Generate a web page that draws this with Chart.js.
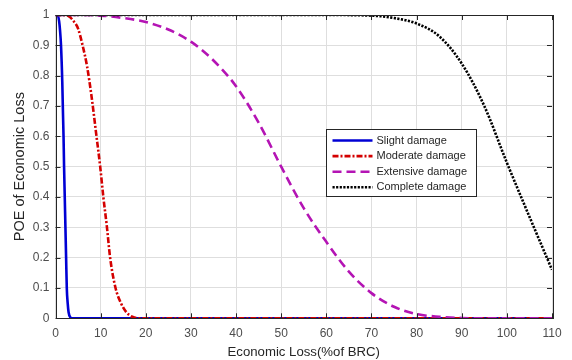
<!DOCTYPE html>
<html lang="en">
<head>
    <meta charset="UTF-8">
    <style>
        * { margin: 0; padding: 0; box-sizing: border-box; }
        body { background: #ffffff; font-family: "Liberation Sans", Arial, sans-serif; }
        .chart-box { width: 572px; height: 360px; position: relative; }
    </style>
</head>
<body>
    <div class="chart-box">
        <canvas id="lossChart"></canvas>
    </div>

    <script src="https://cdn.jsdelivr.net/npm/chart.js"></script>
    <script>
        // Probability of exceedance of economic loss, per damage state
        const slightX = [0, 0.5, 0.8, 1.0, 1.22, 1.5, 1.65, 1.78, 1.9, 2.05, 2.2, 2.35, 2.5, 2.7, 2.9, 3.3, 3.7, 110];
        const slightY = [1, 0.998, 0.98, 0.95, 0.9, 0.78, 0.68, 0.6, 0.5, 0.4, 0.3, 0.2, 0.1, 0.05, 0.02, 0.003, 0, 0];

        const moderateX = [0, 2, 3, 4, 5, 6, 7, 8, 9, 9.9, 10.6, 11.4, 12.1, 13.3, 14.5, 15.7, 17, 18.5, 110];
        const moderateY = [1, 1, 0.995, 0.98, 0.955, 0.9, 0.83, 0.73, 0.61, 0.5, 0.4, 0.3, 0.2, 0.1, 0.05, 0.02, 0.005, 0, 0];

        const extensiveX = [0, 5, 10, 15, 20, 25, 30, 35, 40, 45, 50, 55, 60, 65, 70, 75, 80, 85, 90, 95, 110];
        const extensiveY = [1, 1, 0.998, 0.99, 0.977, 0.952, 0.912, 0.85, 0.765, 0.645, 0.5, 0.363, 0.252, 0.154, 0.083, 0.038, 0.014, 0.005, 0.001, 0, 0];

        const completeX = [0, 60, 70, 75, 80, 85, 90, 95, 100, 105, 110];
        const completeY = [1, 1, 0.998, 0.99, 0.972, 0.93, 0.84, 0.70, 0.513, 0.335, 0.16];

        const seriesNames = ["Slight damage", "Moderate damage", "Extensive damage", "Complete damage"];

        const toPoints = (xs, ys) => xs.map((x, i) => ({ x: x, y: ys[i] }));

        const axisColor = "#262626";
        const tickColor = "#4d4d4d";
        const gridColor = "#dedede";
        const fontFamily = "'Liberation Sans', Arial, sans-serif";

        // box around the plot, inward tick marks and the inset legend
        const matlabFrame = {
            id: "matlabFrame",
            afterDatasetsDraw(chart) {
                const ctx = chart.ctx;
                const area = chart.chartArea;
                const xs = chart.scales.x;
                const ys = chart.scales.y;
                ctx.save();
                ctx.strokeStyle = axisColor;
                ctx.lineWidth = 1;
                ctx.setLineDash([]);
                ctx.beginPath();
                xs.ticks.forEach(t => {
                    const px = Math.round(xs.getPixelForValue(t.value)) + 0.5;
                    ctx.moveTo(px, area.bottom);
                    ctx.lineTo(px, area.bottom - 5);
                    ctx.moveTo(px, area.top);
                    ctx.lineTo(px, area.top + 5);
                });
                ys.ticks.forEach(t => {
                    const py = Math.round(ys.getPixelForValue(t.value)) + 0.5;
                    ctx.moveTo(area.left, py);
                    ctx.lineTo(area.left + 5, py);
                    ctx.moveTo(area.right, py);
                    ctx.lineTo(area.right - 5, py);
                });
                ctx.stroke();
                ctx.strokeRect(Math.round(area.left) + 0.5, Math.round(area.top) + 0.5,
                    Math.round(area.right - area.left), Math.round(area.bottom - area.top));

                // legend
                const lx = 326.5, ly = 129.5, lw = 150, lh = 67;
                ctx.fillStyle = "#ffffff";
                ctx.fillRect(lx, ly, lw, lh);
                ctx.strokeStyle = axisColor;
                ctx.strokeRect(lx, ly, lw, lh);
                ctx.font = "11px " + fontFamily;
                ctx.textBaseline = "middle";
                chart.data.datasets.forEach((ds, i) => {
                    const rowY = ly + 11 + i * 15.6;
                    ctx.strokeStyle = ds.borderColor;
                    ctx.lineWidth = ds.borderWidth;
                    ctx.setLineDash(ds.borderDash || []);
                    ctx.beginPath();
                    ctx.moveTo(lx + 6, rowY);
                    ctx.lineTo(lx + 46, rowY);
                    ctx.stroke();
                    ctx.setLineDash([]);
                    ctx.fillStyle = axisColor;
                    ctx.fillText(ds.label, lx + 50, rowY);
                });
                ctx.restore();
            }
        };

        new Chart("lossChart", {
            type: "line",
            data: {
                datasets: [
                    {
                        label: seriesNames[0],
                        data: toPoints(slightX, slightY),
                        borderColor: "#0000d4",
                        borderWidth: 2.6,
                        order: 4
                    },
                    {
                        label: seriesNames[1],
                        data: toPoints(moderateX, moderateY),
                        borderColor: "#d40000",
                        borderWidth: 2.6,
                        borderDash: [6, 2, 2, 2],
                        order: 3
                    },
                    {
                        label: seriesNames[2],
                        data: toPoints(extensiveX, extensiveY),
                        borderColor: "#b414b4",
                        borderWidth: 2.6,
                        borderDash: [9, 5],
                        order: 2
                    },
                    {
                        label: seriesNames[3],
                        data: toPoints(completeX, completeY),
                        borderColor: "#000000",
                        borderWidth: 2.6,
                        borderDash: [2.2, 1.4],
                        order: 1
                    }
                ]
            },
            options: {
                responsive: true,
                maintainAspectRatio: false,
                animation: false,
                layout: { padding: { top: 15, right: 20, left: 0, bottom: 0 } },
                elements: {
                    point: { radius: 0 },
                    line: { cubicInterpolationMode: "monotone", fill: false }
                },
                plugins: {
                    legend: { display: false },
                    tooltip: { enabled: false }
                },
                scales: {
                    x: {
                        type: "linear",
                        min: 0,
                        max: 110,
                        ticks: {
                            stepSize: 10,
                            color: tickColor,
                            font: { family: fontFamily, size: 12 },
                            padding: 8,
                            maxRotation: 0
                        },
                        grid: { color: gridColor, drawTicks: false },
                        border: { display: false },
                        title: {
                            display: true,
                            text: "Economic Loss(%of BRC)",
                            color: axisColor,
                            font: { family: fontFamily, size: 13.2 },
                            padding: { top: 0, bottom: 0 }
                        },
                        afterFit: scale => { scale.height = 41.7; }
                    },
                    y: {
                        type: "linear",
                        min: 0,
                        max: 1,
                        ticks: {
                            stepSize: 0.1,
                            color: tickColor,
                            font: { family: fontFamily, size: 12 },
                            padding: 6,
                            callback: v => String(Number(v.toFixed(1)))
                        },
                        grid: { color: gridColor, drawTicks: false },
                        border: { display: false },
                        title: {
                            display: true,
                            text: "POE of Economic Loss",
                            color: axisColor,
                            font: { family: fontFamily, size: 14.5 },
                            padding: { top: 11, bottom: 2 }
                        },
                        afterFit: scale => { scale.width = 55.5; }
                    }
                }
            },
            plugins: [matlabFrame]
        });
    </script>
</body>
</html>
